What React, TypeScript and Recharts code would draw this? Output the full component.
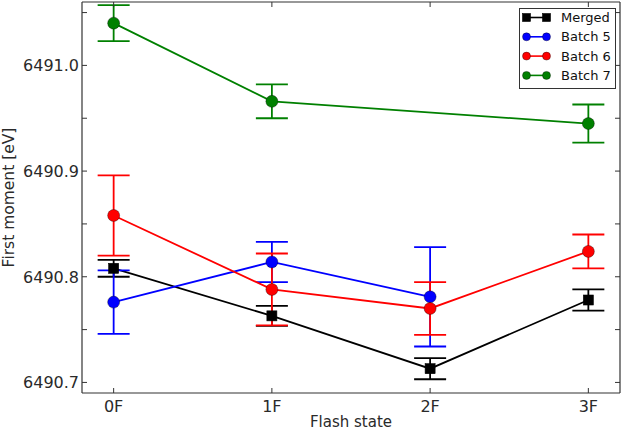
import { ErrorBar, Legend, Line, LineChart, XAxis, YAxis } from "recharts";

const flashStates = ["0F", "1F", "2F", "3F"];
const flashIndex = [0, 1, 2, 3];

const mergedValues = [6490.808, 6490.763, 6490.713, 6490.778];
const mergedErrors = [0.008, 0.0095, 0.01, 0.01];
const batch5Values = [6490.776, 6490.814, 6490.781, null];
const batch5Errors = [0.03, 0.019, 0.047, null];
const batch6Values = [6490.858, 6490.788, 6490.77, 6490.824];
const batch6Errors = [0.038, 0.034, 0.025, 0.016];
const batch7Values = [6491.04, 6490.966, null, 6490.945];
const batch7Errors = [0.017, 0.016, null, 0.018];

const yTicks = [6490.7, 6490.75, 6490.8, 6490.85, 6490.9, 6490.95, 6491.0, 6491.05];
const yDomain = [6490.69, 6491.06];

const series = [
  { key: "merged", name: "Merged", color: "#000000", square: true },
  { key: "batch5", name: "Batch 5", color: "#0000ff", square: false },
  { key: "batch6", name: "Batch 6", color: "#ff0000", square: false },
  { key: "batch7", name: "Batch 7", color: "#008000", square: false },
];

const data = flashIndex.map((x, i) => ({
  x,
  merged: mergedValues[i],
  mergedErr: mergedErrors[i],
  batch5: batch5Values[i],
  batch5Err: batch5Errors[i],
  batch6: batch6Values[i],
  batch6Err: batch6Errors[i],
  batch7: batch7Values[i],
  batch7Err: batch7Errors[i],
}));

const FONT = "'DejaVu Sans', sans-serif";
const AXIS = "#333333";
const TEXT = "#2a2a2a";

function marker(cx: number, cy: number, color: string, square: boolean, size: number, key?: string) {
  if (cx == null || cy == null || Number.isNaN(cy)) return <g key={key} />;
  if (square) {
    return <rect key={key} x={cx - size} y={cy - size} width={size * 2} height={size * 2} fill={color} stroke="#000" strokeWidth={0.6} />;
  }
  return <circle key={key} cx={cx} cy={cy} r={size} fill={color} stroke="#000" strokeOpacity={0.45} strokeWidth={0.8} />;
}

function LeftTick(props: any) {
  const { x, y, payload } = props;
  const axisX = x + 3;
  const v = payload.value as number;
  const major = Math.abs(v * 10 - Math.round(v * 10)) < 1e-6;
  return (
    <g>
      <line x1={axisX} x2={axisX + 5} y1={y} y2={y} stroke={AXIS} strokeWidth={1} />
      {major && (
        <text x={x} y={y} dy="0.36em" textAnchor="end" fontSize={16} fontFamily={FONT} fill={TEXT}>
          {v.toFixed(1)}
        </text>
      )}
    </g>
  );
}

function RightTick(props: any) {
  const { x, y } = props;
  return <line x1={x - 5} x2={x} y1={y} y2={y} stroke={AXIS} strokeWidth={1} />;
}

function BottomTick(props: any) {
  const { x, y, payload } = props;
  return (
    <g>
      <line x1={x} x2={x} y1={y - 5} y2={y} stroke={AXIS} strokeWidth={1} />
      <text x={x} y={y + 13} dy="0.36em" textAnchor="middle" fontSize={16} fontFamily={FONT} fill={TEXT}>
        {flashStates[payload.value]}
      </text>
    </g>
  );
}

function TopTick(props: any) {
  const { x, y } = props;
  return <line x1={x} x2={x} y1={y} y2={y + 5} stroke={AXIS} strokeWidth={1} />;
}

function LegendBox() {
  return (
    <svg width={97} height={81}>
      <rect x={0.5} y={0.5} width={96} height={80} fill="#fff" stroke={AXIS} strokeWidth={1} />
      {series.map((s, i) => {
        const y = 9.5 + i * 19.3;
        return (
          <g key={s.key}>
            <line x1={7.5} x2={27.5} y1={y} y2={y} stroke={s.color} strokeWidth={1.6} />
            {marker(7.5, y, s.color, s.square, 4)}
            {marker(27.5, y, s.color, s.square, 4)}
            <text x={42} y={y} dy="0.36em" fontSize={13} fontFamily={FONT} fill="#111">
              {s.name}
            </text>
          </g>
        );
      })}
    </svg>
  );
}

export default function App() {
  return (
    <div style={{ position: "absolute", left: 0, top: 0, width: 624, height: 433, background: "#fff" }}>
      <LineChart width={624} height={433} data={data} margin={{ top: 0, right: 0, bottom: 0, left: 0 }}>
        <XAxis
          dataKey="x"
          type="number"
          domain={[-0.2, 3.2]}
          ticks={flashIndex}
          height={40}
          tickSize={0}
          tickMargin={0}
          tick={BottomTick}
          axisLine={{ stroke: AXIS, strokeWidth: 1.2 }}
          label={{
            position: "center",
            content: ({ viewBox }: any) => (
              <text
                x={viewBox.x + viewBox.width / 2}
                y={viewBox.y + 29}
                dy="0.36em"
                textAnchor="middle"
                fontSize={15}
                fontFamily={FONT}
                fill={TEXT}
              >
                Flash state
              </text>
            ),
          }}
        />
        <XAxis
          xAxisId="top"
          dataKey="x"
          type="number"
          orientation="top"
          domain={[-0.2, 3.2]}
          ticks={flashIndex}
          height={2}
          tickSize={0}
          tickMargin={0}
          tick={TopTick}
          axisLine={{ stroke: AXIS, strokeWidth: 1.2 }}
        />
        <YAxis
          type="number"
          domain={yDomain}
          ticks={yTicks}
          allowDataOverflow
          width={82}
          tickSize={0}
          tickMargin={3}
          tick={LeftTick}
          axisLine={{ stroke: AXIS, strokeWidth: 1.2 }}
          label={{
            position: "center",
            content: ({ viewBox }: any) => {
              const cx = viewBox.x + 8;
              const cy = viewBox.y + viewBox.height / 2;
              return (
                <text
                  x={cx}
                  y={cy}
                  dy="0.36em"
                  textAnchor="middle"
                  transform={`rotate(-90, ${cx}, ${cy})`}
                  fontSize={15.5}
                  fontFamily={FONT}
                  fill={TEXT}
                >
                  First moment [eV]
                </text>
              );
            },
          }}
        />
        <YAxis
          yAxisId="right"
          orientation="right"
          type="number"
          domain={yDomain}
          ticks={yTicks}
          allowDataOverflow
          width={4}
          tickSize={0}
          tickMargin={0}
          tick={RightTick}
          axisLine={{ stroke: AXIS, strokeWidth: 1.2 }}
        />
        {series.map((s) => (
          <Line
            key={s.key}
            dataKey={s.key}
            name={s.name}
            stroke={s.color}
            strokeWidth={1.8}
            connectNulls
            isAnimationActive={false}
            dot={(p: any) => marker(p.cx, p.cy, s.color, s.square, s.square ? 5 : 6, `${s.key}-${p.index}`)}
            activeDot={false}
          >
            <ErrorBar dataKey={`${s.key}Err`} width={16} stroke={s.color} strokeWidth={1.8} direction="y" />
          </Line>
        ))}
        <Legend
          layout="vertical"
          align="center"
          verticalAlign="middle"
          content={() => <LegendBox />}
          wrapperStyle={{ left: 519, top: 8, width: 97, height: 81 }}
        />
      </LineChart>
    </div>
  );
}
